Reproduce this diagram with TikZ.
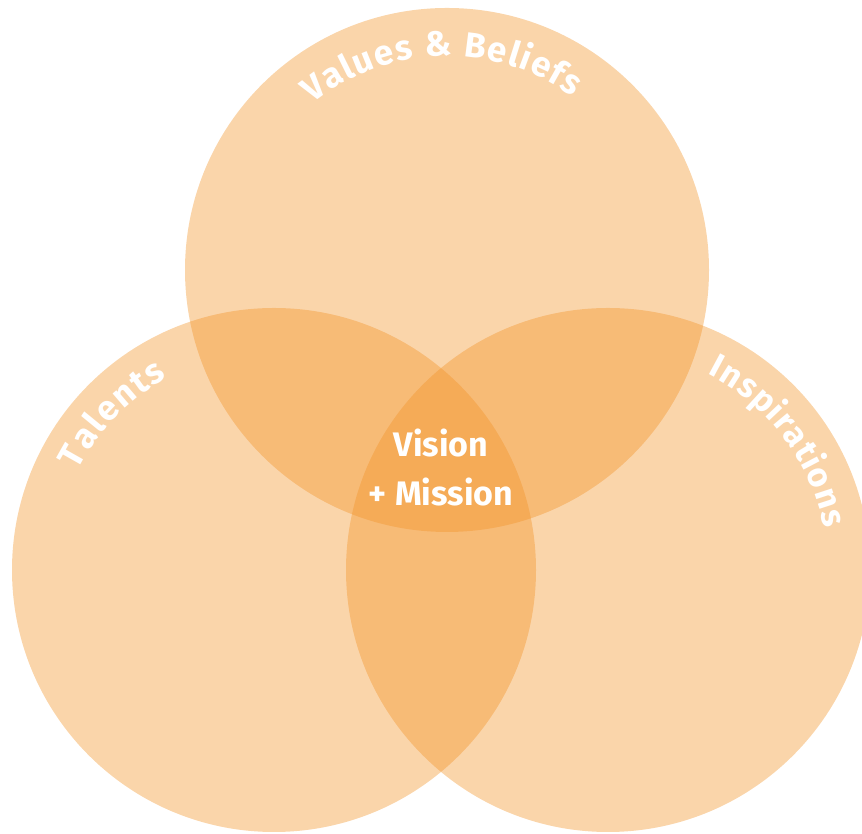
\documentclass[tikz,border=0pt]{standalone}
\usepackage{fontspec}
\setmainfont{Fira Sans}
\usetikzlibrary{decorations.text}
\definecolor{venn}{RGB}{242,146,37}
\tikzset{
  venncircle/.style={fill=venn, fill opacity=0.39, draw=none},
  curvedlabel/.style={decorate, decoration={text along path, text color=white, text align={fit to path}}}
}
\begin{document}
\begin{tikzpicture}[x=1pt,y=1pt]
\useasboundingbox (0,0) rectangle (862,834);
\begin{scope}
\clip (0,0) rectangle (862,834);
\fill[venncircle] (447,564) circle[radius=262];
\fill[venncircle] (274,264) circle[radius=262];
\fill[venncircle] (608,264) circle[radius=262];
\end{scope}
\path[curvedlabel, decoration={text={|\fontsize{35}{35}\selectfont\bfseries|Values {\&} Beliefs}}]
  (447,564) ++(129:214) arc[start angle=129, end angle=54, radius=214];
\path[curvedlabel, decoration={text={|\fontsize{35}{35}\selectfont\bfseries|Talents}}]
  (274,264) ++(153:220) arc[start angle=153, end angle=119, radius=220];
\path[curvedlabel, decoration={text={|\fontsize{34}{34}\selectfont\bfseries|Inspirations}}]
  (608,264) ++(63:220) arc[start angle=63, end angle=11, radius=220];
\node[text=white, align=center, font=\fontsize{34}{49}\selectfont\bfseries] (center) at (441,366) {Vision\\+ Mission};
\end{tikzpicture}
\end{document}
